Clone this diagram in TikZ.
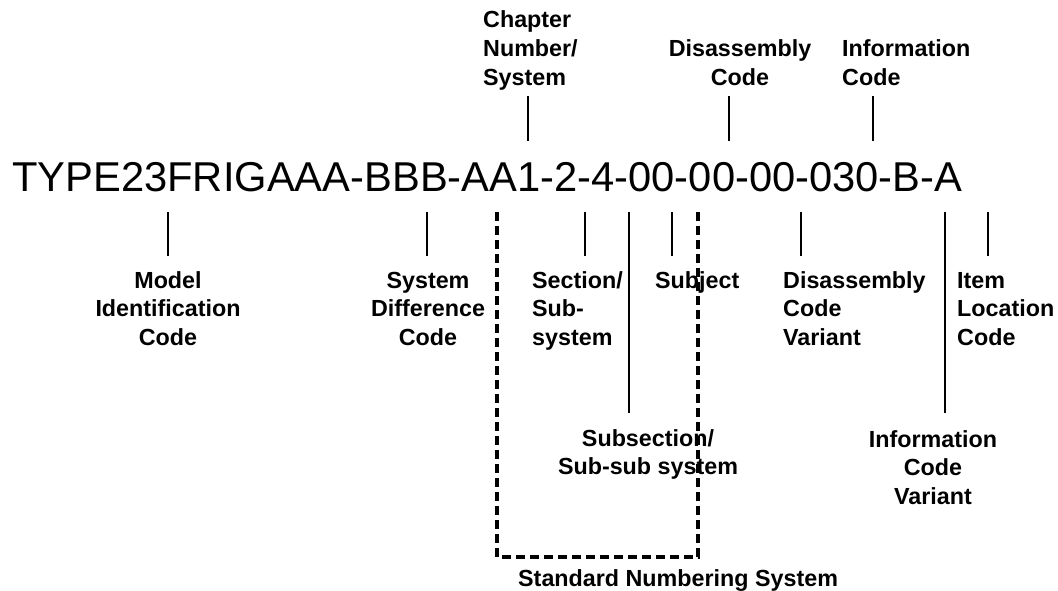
\documentclass[tikz,border=0pt]{standalone}
\usepackage{fontspec}
\setmainfont{Liberation Sans}
\begin{document}
\begin{tikzpicture}[x=1pt,y=-1pt,
  code/.style={anchor=base west,inner sep=0pt,font=\fontsize{41.7pt}{50pt}\selectfont},
  lbl/.style={inner sep=0pt,font=\bfseries\fontsize{23.3pt}{28.6pt}\selectfont},
  tick/.style={line width=2pt,black},
  bracket/.style={line width=3.2pt,dash pattern=on 9pt off 5pt}]
\useasboundingbox (0,0) rectangle (1058,591);
\fill[white] (0,0) rectangle (1058,591);

% main code
\node[code] (main) at (12,191) {TYPE23FRIGAAA-BBB-AA1-2-4-00-00-00-030-B-A};

% top labels
\node[lbl,anchor=base west] (chap) at (483,28) {\begin{tabular}[t]{@{}l@{}}Chapter\\Number/\\System\end{tabular}};
\node[lbl,anchor=base] (dis) at (740,57) {\begin{tabular}[t]{@{}c@{}}Disassembly\\Code\end{tabular}};
\node[lbl,anchor=base west] (info) at (842,57) {\begin{tabular}[t]{@{}l@{}}Information\\Code\end{tabular}};

% bottom labels
\node[lbl,anchor=base] (model) at (168,288) {\begin{tabular}[t]{@{}c@{}}Model\\Identification\\Code\end{tabular}};
\node[lbl,anchor=base] (sysdiff) at (428,288) {\begin{tabular}[t]{@{}c@{}}System\\Difference\\Code\end{tabular}};
\node[lbl,anchor=base west] (sect) at (532,288) {\begin{tabular}[t]{@{}l@{}}Section/\\Sub-\\system\end{tabular}};
\node[lbl,anchor=base west] (subj) at (655,288) {Subject};
\node[lbl,anchor=base west] (disvar) at (783,288) {\begin{tabular}[t]{@{}l@{}}Disassembly\\Code\\Variant\end{tabular}};
\node[lbl,anchor=base west] (item) at (957,288) {\begin{tabular}[t]{@{}l@{}}Item\\Location\\Code\end{tabular}};
\node[lbl,anchor=base] (subsec) at (648,446) {\begin{tabular}[t]{@{}c@{}}Subsection/\\Sub-sub system\end{tabular}};
\node[lbl,anchor=base] (infovar) at (933,447) {\begin{tabular}[t]{@{}c@{}}Information\\Code\\Variant\end{tabular}};
\node[lbl,anchor=base west] (sns) at (518,586) {Standard Numbering System};

% tick end points
\coordinate (chapA) at (528,96);  \coordinate (chapB) at (528,141);
\coordinate (disA) at (729,96);   \coordinate (disB) at (729,141);
\coordinate (infoA) at (873,96);  \coordinate (infoB) at (873,141);
\coordinate (modelA) at (168,212); \coordinate (modelB) at (168,256);
\coordinate (sysA) at (427,212);   \coordinate (sysB) at (427,256);
\coordinate (sectA) at (585,212);  \coordinate (sectB) at (585,256);
\coordinate (subsA) at (629,212);  \coordinate (subsB) at (629,413);
\coordinate (subjA) at (672,212);  \coordinate (subjB) at (672,256);
\coordinate (dvA) at (801,212);    \coordinate (dvB) at (801,256);
\coordinate (ivA) at (945,212);    \coordinate (ivB) at (945,413);
\coordinate (itemA) at (988,212);  \coordinate (itemB) at (988,256);

\foreach \t in {chap,dis,info,model,sys,sect,subs,subj,dv,iv,item}
  \draw[tick] (\t A) -- (\t B);

% dashed bracket
\coordinate (brTL) at (497,212);
\coordinate (brBL) at (497,557);
\coordinate (brBR) at (698,557);
\coordinate (brTR) at (698,212);
\draw[bracket] (brTL) -- (brBL) -- (brBR) -- (brTR);
\end{tikzpicture}
\end{document}
